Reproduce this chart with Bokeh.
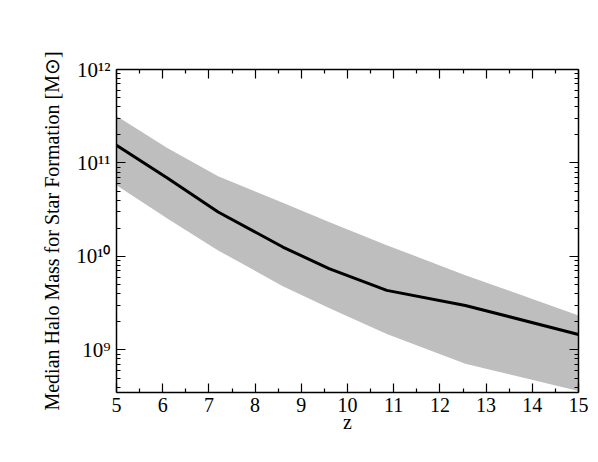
from bokeh.plotting import figure
from bokeh.models import FixedTicker, LinearAxis, LogAxis, ColumnDataSource, Range1d
from bokeh.embed import file_html
from bokeh.resources import INLINE

z = [5.0, 6.1, 7.2, 8.6, 9.6, 10.85, 12.55, 15.0]
median = [1.55e11, 6.9e10, 2.99e10, 1.26e10, 7.4e9, 4.33e9, 2.99e9, 1.46e9]
upper = [3.19e11, 1.45e11, 7.2e10, 3.76e10, 2.34e10, 1.32e10, 6.3e9, 2.34e9]
lower = [5.77e10, 2.55e10, 1.16e10, 4.8e9, 2.8e9, 1.48e9, 7.1e8, 3.63e8]

x_ticks = [5, 6, 7, 8, 9, 10, 11, 12, 13, 14, 15]
x_minor = [5.5, 6.5, 7.5, 8.5, 9.5, 10.5, 11.5, 12.5, 13.5, 14.5]
y_ticks = [1e9, 1e10, 1e11, 1e12]
y_tick_labels = ["10⁹", "10¹⁰", "10¹¹", "10¹²"]
y_minor = [m * 10.0 ** e for e in range(8, 12) for m in range(2, 10)]

FONT = "'Liberation Serif', 'Times New Roman', serif"

src = ColumnDataSource(dict(z=z, median=median, upper=upper, lower=lower))

p = figure(width=588, height=450, y_axis_type="log", output_backend="svg",
           toolbar_location=None, x_range=Range1d(5, 15), y_range=Range1d(3.5e8, 1e12),
           min_border_left=116, min_border_right=10, min_border_top=69, min_border_bottom=58)
p.outline_line_color = None
p.xgrid.visible = False
p.ygrid.visible = False
p.background_fill_color = "white"

p.varea(x="z", y1="lower", y2="upper", source=src, fill_color="#bebebe")
p.line(x="z", y="median", source=src, line_color="black", line_width=3)

xt = FixedTicker(ticks=x_ticks, minor_ticks=x_minor)
yt = FixedTicker(ticks=y_ticks, minor_ticks=y_minor)
overrides = {v: s for v, s in zip(y_ticks, y_tick_labels)}


def style(ax, labels=True):
    ax.axis_line_color = "black"
    ax.axis_line_width = 1.5
    ax.major_tick_in = 9
    ax.major_tick_out = 0
    ax.minor_tick_in = 4
    ax.minor_tick_out = 0
    ax.major_tick_line_width = 1.2
    ax.minor_tick_line_width = 1.2
    ax.major_label_text_font = FONT
    ax.major_label_text_font_size = "20px"
    ax.major_label_text_color = "black"
    ax.axis_label_text_font = FONT
    ax.axis_label_text_font_style = "normal"
    ax.axis_label_text_color = "black"
    ax.axis_label_text_font_size = "20px"
    if not labels:
        ax.major_label_text_font_size = "0px"
        ax.major_label_text_alpha = 0


xa = p.xaxis[0]
xa.ticker = xt
style(xa)
xa.axis_label = "z"
xa.major_label_standoff = 5
xa.axis_label_standoff = -4

ya = p.yaxis[0]
ya.ticker = yt
ya.major_label_overrides = overrides
style(ya)
ya.major_label_text_font_size = "21px"
ya.axis_label = "Median Halo Mass for Star Formation [M⊙]"
ya.major_label_standoff = 6
ya.axis_label_standoff = 10

top = LinearAxis(ticker=xt)
style(top, labels=False)
p.add_layout(top, "above")

right = LogAxis(ticker=yt)
style(right, labels=False)
p.add_layout(right, "right")

open("out.html", "w").write(file_html(p, INLINE))
